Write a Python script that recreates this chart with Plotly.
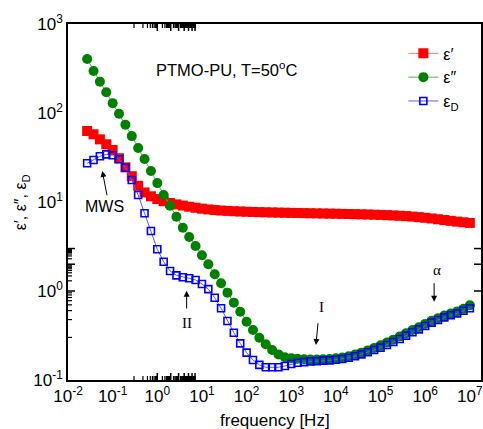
import math
import plotly.graph_objects as go

# ---- data ----
freq_hz = [
    2.683e-2, 3.728e-2, 5.179e-2, 7.197e-2,
    1e-1, 1.389e-1, 1.931e-1, 2.683e-1, 3.728e-1, 5.179e-1, 7.197e-1,
    1e0, 1.389, 1.931, 2.683, 3.728, 5.179, 7.197,
    1e1, 13.89, 19.31, 26.83, 37.28, 51.79, 71.97,
    1e2, 138.9, 193.1, 268.3, 372.8, 517.9, 719.7,
    1e3, 1389, 1931, 2683, 3728, 5179, 7197,
    1e4, 13890, 19310, 26830, 37280, 51790, 71970,
    1e5, 138900, 193100, 268300, 372800, 517900, 719700,
    1e6, 1389000, 1931000, 2683000, 3728000, 5179000, 7197000,
    1e7,
]

eps_real = [
    62.8, 57.7, 50.6, 44.5, 38.4, 31.0, 24.5, 19.5, 15.2, 12.8,
    11.6, 10.8, 10.2, 9.75, 9.40, 9.12, 8.85, 8.62, 8.42, 8.25,
    8.12, 8.02, 7.94, 7.88, 7.82, 7.77, 7.73, 7.69, 7.66, 7.63,
    7.60, 7.57, 7.55, 7.52, 7.50, 7.48, 7.45, 7.43, 7.40, 7.38,
    7.35, 7.33, 7.30, 7.27, 7.24, 7.20, 7.16, 7.12, 7.06, 7.00,
    6.94, 6.86, 6.76, 6.65, 6.53, 6.40, 6.27, 6.14, 6.02, 5.92,
    5.82,
]

eps_loss = [
    405, 296, 225, 171, 129, 98, 74, 55, 40.5, 30.4,
    22.3, 16.3, 12.0, 9.09, 6.84, 5.14, 4.04, 3.21, 2.52, 2.00,
    1.54, 1.22, 0.958, 0.74, 0.585, 0.452, 0.365, 0.299, 0.252, 0.217,
    0.194, 0.180, 0.176, 0.173, 0.171, 0.170, 0.170, 0.171, 0.172, 0.175,
    0.179, 0.185, 0.193, 0.203, 0.215, 0.229, 0.245, 0.263, 0.284, 0.308,
    0.335, 0.364, 0.392, 0.427, 0.463, 0.495, 0.530, 0.558, 0.588, 0.630,
    0.690,
]

eps_deriv = [
    27.2, 29.6, 32.6, 34.3, 33.5, 30.2, 24.3, 17.7, 12.0, 7.47,
    4.72, 2.94, 2.13, 1.68, 1.50, 1.43, 1.39, 1.33, 1.20, 1.05,
    0.84, 0.64, 0.46, 0.34, 0.258, 0.203, 0.168, 0.148, 0.139, 0.139,
    0.139, 0.1436, 0.151, 0.156, 0.159, 0.162, 0.163, 0.165, 0.166, 0.169,
    0.172, 0.178, 0.185, 0.194, 0.205, 0.217, 0.231, 0.247, 0.267, 0.289,
    0.315, 0.344, 0.371, 0.405, 0.441, 0.472, 0.506, 0.533, 0.561, 0.601,
    0.640,
]

x_tick_vals = [1e-2, 1e-1, 1e0, 1e1, 1e2, 1e3, 1e4, 1e5, 1e6, 1e7]
x_tick_text = ["10<sup>-2</sup>", "10<sup>-1</sup>", "10<sup>0</sup>", "10<sup>1</sup>",
               "10<sup>2</sup>", "10<sup>3</sup>", "10<sup>4</sup>", "10<sup>5</sup>",
               "10<sup>6</sup>", "10<sup>7</sup>"]
y_tick_vals = [1e-1, 1e0, 1e1, 1e2, 1e3]
y_tick_text = ["10<sup>-1</sup>", "10<sup>0</sup>", "10<sup>1</sup>", "10<sup>2</sup>", "10<sup>3</sup>"]

X_RANGE = [-2, 7.25]
Y_RANGE = [-1, 3]
x_minor = [m * 10 ** e for e in range(-2, 8) for m in range(2, 10)
           if math.log10(m * 10 ** e) < X_RANGE[1]]
y_minor = [m * 10 ** e for e in range(-1, 3) for m in range(2, 10)]

FONT = "Liberation Sans, Arial, sans-serif"
SERIF = "Liberation Serif, Times New Roman, serif"

fig = go.Figure()
fig.add_trace(go.Scatter(
    x=freq_hz, y=eps_real, name="ε′", mode="lines+markers",
    line=dict(color="rgb(255,120,120)", width=1),
    marker=dict(symbol="square", size=10, color="rgb(255,0,0)", line=dict(width=0)),
))
fig.add_trace(go.Scatter(
    x=freq_hz, y=eps_loss, name="ε″", mode="lines+markers",
    line=dict(color="rgb(90,175,90)", width=1),
    marker=dict(symbol="circle", size=10, color="rgb(0,128,0)", line=dict(width=0)),
))
fig.add_trace(go.Scatter(
    x=freq_hz, y=eps_deriv, name="ε<sub>D</sub>", mode="lines+markers",
    line=dict(color="rgb(90,90,255)", width=1),
    marker=dict(symbol="square-open", size=7, color="rgb(0,0,255)", line=dict(width=1.6)),
))

fig.update_layout(
    template="none",
    width=483, height=429,
    margin=dict(l=68, r=2, t=24, b=49, autoexpand=False),
    paper_bgcolor="white", plot_bgcolor="white",
    font=dict(family=FONT, color="black"),
    xaxis=dict(
        type="log", range=X_RANGE, showgrid=False, automargin=False,
        showline=True, linecolor="black", linewidth=1.5, mirror=True,
        ticks="", tickmode="array", tickvals=x_tick_vals, ticktext=x_tick_text,
        tickfont=dict(family=FONT, size=17, color="black"),
    ),
    yaxis=dict(
        type="log", range=Y_RANGE, showgrid=False, automargin=False,
        showline=True, linecolor="black", linewidth=1.5, mirror=True,
        ticks="", tickmode="array", tickvals=y_tick_vals, ticktext=y_tick_text,
        tickfont=dict(family=FONT, size=17, color="black"),
    ),
    legend=dict(
        x=0.812, y=0.965, xanchor="left", yanchor="top",
        bgcolor="rgba(0,0,0,0)", borderwidth=0,
        font=dict(family=FONT, size=16, color="black"),
        tracegroupgap=0, itemwidth=30,
    ),
    showlegend=True,
)

# ---- tick marks (inside), drawn as axis-referenced segments ----
PLOT_W, PLOT_H = 413.0, 356.0
MAJ, MIN = 7.0, 4.0
shapes = []
def vtick(v, length, width):
    lx = math.log10(v)
    for y0, y1 in ((0, length / PLOT_H), (1, 1 - length / PLOT_H)):
        shapes.append(dict(type="line", xref="x", yref="paper", x0=lx, x1=lx, y0=y0, y1=y1,
                           line=dict(color="black", width=width), layer="above"))
for v in x_tick_vals:
    vtick(v, MAJ, 1.5)
for v in x_minor:
    vtick(v, MIN, 1.2)
for v in y_tick_vals:
    ly = math.log10(v)
    for x0, x1 in ((0, MAJ / PLOT_W), (1, 1 - MAJ / PLOT_W)):
        shapes.append(dict(type="line", xref="paper", yref="y", x0=x0, x1=x1, y0=ly, y1=ly,
                           line=dict(color="black", width=1.5), layer="above"))
for v in y_minor:
    ly = math.log10(v)
    shapes.append(dict(type="line", xref="paper", yref="y", x0=0, x1=MIN / PLOT_W, y0=ly, y1=ly,
                       line=dict(color="black", width=1.2), layer="above"))
fig.update_layout(shapes=shapes)

annos = [
    dict(x=0.5, y=-0.115, xref="paper", yref="paper", text="frequency [Hz]",
         showarrow=False, xanchor="center", yanchor="middle",
         font=dict(family=FONT, size=17)),
    dict(x=-0.113, y=0.5, xref="paper", yref="paper", text="ε′, ε″, ε<sub>D</sub>",
         showarrow=False, xanchor="center", yanchor="middle", textangle=-90,
         font=dict(family=FONT, size=16)),
    dict(x=0.208, y=0.874, xref="paper", yref="paper", text="PTMO-PU, T=50<sup>o</sup>C",
         showarrow=False, xanchor="left", yanchor="middle",
         font=dict(family=FONT, size=16.5)),
    dict(x=-1.172, y=0.944, text="MWS", showarrow=False,
         font=dict(family=FONT, size=16)),
    dict(x=0.657, y=-0.360, text="II", showarrow=False,
         font=dict(family=SERIF, size=15)),
    dict(x=3.679, y=-0.176, text="I", showarrow=False,
         font=dict(family=SERIF, size=15)),
    dict(x=6.254, y=0.236, text="α", showarrow=False,
         font=dict(family=SERIF, size=15)),
]
arrows = [
    ((-1.232, 1.348), (-1.120, 1.060)),
    ((0.657, 0.003), (0.657, -0.213)),
    ((3.552, -0.607), (3.603, -0.345)),
    ((6.200, -0.120), (6.200, 0.105)),
]
for (hx, hy), (tx, ty) in arrows:
    annos.append(dict(x=hx, y=hy, ax=tx, ay=ty, axref="x", ayref="y", xref="x", yref="y",
                      text="", showarrow=True, arrowhead=2, arrowsize=1.2,
                      arrowwidth=1, arrowcolor="black"))
fig.update_layout(annotations=annos)

fig.write_html("out.html")
